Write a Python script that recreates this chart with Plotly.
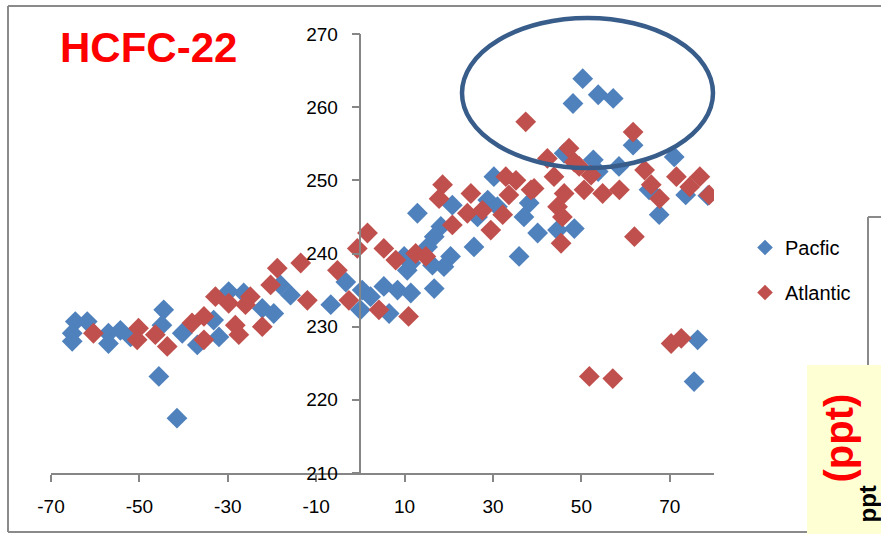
import plotly.graph_objects as go

# ---- data (latitude, HCFC-22 ppt) ----
pacific_lat = [-64.5, -65.2, -65.2, -61.8, -57.0, -57.0, -54.3, -52.0, -44.5, -44.9, -45.6, -41.5,
               -40.3, -36.9, -33.2, -32.0, -29.8, -15.8, -18.1, -19.6, -22.2, -26.4, -6.7, -3.3,
               0.0, 0.4, 2.3, 5.3, 6.5, 8.4, 9.9, 10.6, 12.9, 20.8, 18.2, 16.7, 15.2, 25.7, 20.4,
               18.9, 16.3, 11.4, 16.7, 11.4, 35.9, 30.2, 28.8, 26.5, 38.2, 40.1, 31.0, 50.3, 48.1,
               53.8, 57.2, 61.7, 52.7, 53.8, 58.5, 71.0, 46.1, 67.6, 44.6, 48.4, 76.3, 75.5, 37.0,
               78.6, 73.6, 65.3]
pacific_hcfc = [230.7, 229.1, 228.0, 230.7, 229.1, 227.7, 229.5, 228.6, 232.3, 230.2, 223.2, 217.5,
                229.1, 227.5, 230.9, 228.6, 234.8, 234.3, 235.7, 231.8, 232.5, 234.6, 233.0, 236.1,
                232.3, 235.0, 234.1, 235.5, 231.8, 235.0, 239.6, 237.7, 245.5, 246.6, 243.7, 242.3,
                240.9, 240.9, 239.6, 238.2, 238.4, 238.7, 235.2, 234.6, 239.6, 250.5, 247.3, 245.0,
                246.9, 242.8, 246.4, 263.9, 260.5, 261.7, 261.2, 254.8, 252.8, 251.2, 251.9, 253.2,
                253.7, 245.3, 243.2, 243.4, 228.2, 222.5, 245.0, 247.9, 248.0, 248.7]

atlantic_lat = [-60.4, -50.2, -50.5, -46.4, -43.7, -38.1, -35.4, -35.4, -32.8, -29.8, -28.3, -27.5,
                1.6, -0.7, 5.3, 8.0, -13.5, -18.8, -20.3, -5.2, -12.0, -2.6, 4.2, -24.9, -26.0,
                -22.2, 10.9, 18.6, 17.8, 25.0, 24.2, 27.6, 20.8, 29.5, 32.2, 32.9, 35.2, 33.6, 39.3,
                12.5, 14.8, 61.7, 37.4, 47.2, 42.3, 48.4, 38.6, 43.8, 46.1, 49.5, 52.2, 50.6, 54.8,
                58.6, 64.3, 65.8, 67.7, 71.5, 76.8, 74.5, 78.9, 44.6, 62.0, 45.4, 70.3, 72.6, 51.8,
                57.1, 45.7]
atlantic_hcfc = [229.1, 229.8, 228.2, 228.9, 227.3, 230.5, 231.4, 228.2, 234.1, 233.2, 230.2, 228.9,
                 242.8, 240.7, 240.7, 239.1, 238.7, 238.0, 235.7, 237.7, 233.6, 233.6, 232.3, 234.1,
                 233.0, 230.0, 231.4, 249.4, 247.5, 248.2, 245.5, 245.9, 243.9, 243.2, 245.3, 250.5,
                 250.0, 248.0, 248.9, 240.0, 239.6, 256.6, 258.0, 254.4, 253.0, 252.5, 248.7, 250.5,
                 248.2, 251.9, 250.7, 248.7, 248.2, 248.7, 251.4, 249.4, 247.5, 250.5, 250.5, 249.1,
                 248.0, 246.4, 242.3, 241.4, 227.7, 228.4, 223.2, 222.9, 245.0]

x_range = [-70, 80]
y_range = [210, 270]
x_ticks = [-70, -50, -30, -10, 10, 30, 50, 70]
x_ticklabels = ["-70", "-50", "-30", "-10", "10", "30", "50", "70"]
y_ticks = [210, 220, 230, 240, 250, 260, 270]

# ---- layout geometry (pixels) ----
FW, FH = 881, 534
L, T, R, B = 51, 34, 167, 61
W = FW - L - R
H = FH - T - B


def pxx(xp):
    return (xp - L) / W


def pxy(yp):
    return (T + H - yp) / H


AXIS_GRAY = "#868686"
FRAME_GRAY = "#8a8a8a"
FONT = "Liberation Sans, Arial, sans-serif"

fig = go.Figure()
fig.add_trace(go.Scatter(
    x=pacific_lat, y=pacific_hcfc, mode="markers", name="Pacfic",
    legendgroup="p",
    marker=dict(symbol="diamond", size=16, color="#4F81BD", line=dict(width=0)),
))
fig.add_trace(go.Scatter(
    x=atlantic_lat, y=atlantic_hcfc, mode="markers", name="Atlantic",
    legendgroup="a",
    marker=dict(symbol="diamond", size=16, color="#C0504D", line=dict(width=0)),
))

y_axis_pos = (0 - x_range[0]) / (x_range[1] - x_range[0])

fig.update_layout(
    width=FW, height=FH,
    margin=dict(l=L, r=R, t=T, b=B, pad=0),
    paper_bgcolor="white", plot_bgcolor="white",
    font=dict(family=FONT, size=19, color="black"),
    xaxis=dict(range=x_range, tickmode="array", tickvals=x_ticks, ticktext=x_ticklabels,
               showgrid=False, zeroline=False,
               showline=True, linecolor=AXIS_GRAY, linewidth=1.5,
               ticks="outside", ticklen=7, tickcolor=AXIS_GRAY, tickwidth=1.5,
               tickfont=dict(size=19, color="black"), ticklabelstandoff=8),
    yaxis=dict(range=y_range, tickmode="array", tickvals=y_ticks, showgrid=False, zeroline=False,
               anchor="free", position=y_axis_pos,
               showline=True, linecolor=AXIS_GRAY, linewidth=1.5,
               ticks="outside", ticklen=8, tickcolor=AXIS_GRAY, tickwidth=1.5,
               tickfont=dict(size=19, color="black"), ticklabelstandoff=10),
    showlegend=True,
    legend=dict(x=pxx(745), y=pxy(228), xanchor="left", yanchor="top",
                font=dict(size=20, color="black"), tracegroupgap=16,
                bgcolor="rgba(0,0,0,0)", itemsizing="constant"),
)

shapes = [
    # outer chart frame
    dict(type="line", xref="paper", yref="paper", x0=pxx(8), y0=pxy(6), x1=pxx(885), y1=pxy(6),
         line=dict(color=FRAME_GRAY, width=2)),
    dict(type="line", xref="paper", yref="paper", x0=pxx(8), y0=pxy(6), x1=pxx(8), y1=pxy(532),
         line=dict(color=FRAME_GRAY, width=2)),
    dict(type="line", xref="paper", yref="paper", x0=pxx(8), y0=pxy(532), x1=pxx(885), y1=pxy(532),
         line=dict(color=FRAME_GRAY, width=2)),
    # neighbouring frame on the right
    dict(type="line", xref="paper", yref="paper", x0=pxx(868), y0=pxy(217), x1=pxx(868), y1=pxy(540),
         line=dict(color=FRAME_GRAY, width=2)),
    dict(type="line", xref="paper", yref="paper", x0=pxx(868), y0=pxy(217), x1=pxx(885), y1=pxy(217),
         line=dict(color=FRAME_GRAY, width=2)),
    # yellow box
    dict(type="rect", xref="paper", yref="paper", x0=pxx(807), y0=pxy(365), x1=pxx(890), y1=pxy(545),
         fillcolor="#FFFFD4", line=dict(width=0)),
    # ellipse highlight
    dict(type="circle", xref="paper", yref="paper", x0=pxx(462), y0=pxy(18), x1=pxx(713), y1=pxy(168),
         line=dict(color="#385D8A", width=4.5), fillcolor="rgba(0,0,0,0)"),
]
fig.update_layout(shapes=shapes)

fig.add_annotation(text="<b>HCFC-22</b>", xref="paper", yref="paper", x=pxx(58), y=pxy(48),
                   xanchor="left", yanchor="middle", showarrow=False,
                   font=dict(family=FONT, size=42, color="#FF0000"))
fig.add_annotation(text="<b>(ppt)</b>", xref="paper", yref="paper", x=pxx(838), y=pxy(392),
                   xanchor="center", yanchor="top", textangle=-90, showarrow=False,
                   font=dict(family=FONT, size=40, color="#FF0000"))
fig.add_annotation(text="<b>ppt</b>", xref="paper", yref="paper", x=pxx(867), y=pxy(484),
                   xanchor="center", yanchor="top", textangle=-90, showarrow=False,
                   font=dict(family=FONT, size=24, color="black"))

fig.write_html("out.html")
